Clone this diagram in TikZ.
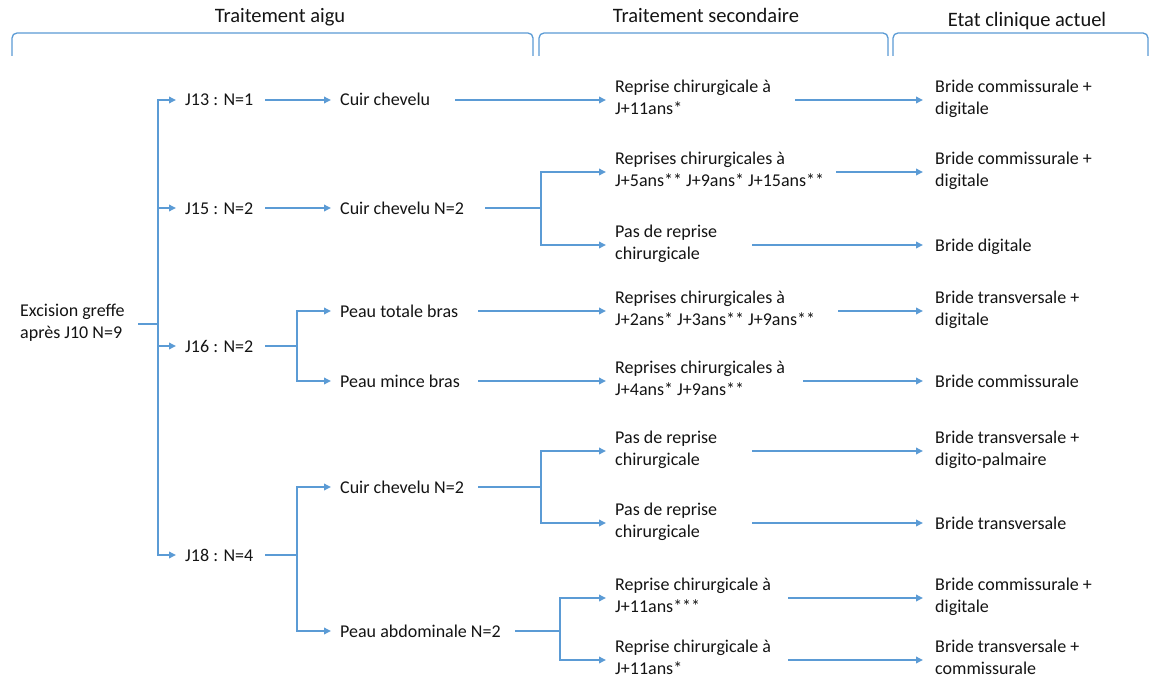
\documentclass[tikz,border=0pt]{standalone}
\usepackage{fontspec}
\setmainfont{Carlito}
\usetikzlibrary{arrows.meta}
\definecolor{lnblue}{HTML}{5B9BD5}
\definecolor{txtc}{HTML}{141414}
% first-line strut (height 16.5, depth 4.5) and last-line strut (height 6, depth 10.5)
\newcommand{\sk}{\rule[-4.5pt]{0pt}{21pt}}
\newcommand{\skb}{\rule[-10.5pt]{0pt}{16.5pt}}
\tikzset{
  txt/.style={anchor=west, inner sep=0pt, align=left, text=txtc,
    font=\fontsize{18}{22}\selectfont},
  hdr/.style={anchor=center, inner sep=0pt, text=txtc,
    font=\fontsize{20.5}{24}\selectfont},
  ln/.style={draw=lnblue, line width=1.8pt},
  arr/.style={ln, -{Triangle[length=7pt,width=6.5pt]}, shorten >=9pt},
  arrl/.style={arr, shorten >=12pt},
  bracepath/.style={draw=lnblue, line width=1.3pt, rounded corners=5pt}
}
\begin{document}
\begin{tikzpicture}[x=1pt,y=-1pt]
\useasboundingbox (0,0) rectangle (1157,685);
\fill[white] (0,0) rectangle (1157,685);

% headers
\node[hdr] (h1) at (280,17) {\sk Traitement aigu};
\node[hdr] (h2) at (706,17) {\sk Traitement secondaire};
\node[hdr] (h3) at (1027,21) {\sk Etat clinique actuel};
\draw[bracepath] (12,56) -- (12,33) -- (533,33) -- (533,56);
\draw[bracepath] (539,56) -- (539,33) -- (888,33) -- (888,56);
\draw[bracepath] (893,56) -- (893,33) -- (1148,33) -- (1148,56);

% root and level 1
\node[txt] (root) at (20,324) {\sk Excision greffe\\\skb après J10 N=9};
\node[txt] (j13) at (185,100) {\sk J13 : N=1};
\node[txt] (j15) at (185,208) {\sk J15 : N=2};
\node[txt] (j16) at (185,346) {\sk J16 : N=2};
\node[txt] (j18) at (185,555) {\sk J18 : N=4};

% level 2
\node[txt] (c13) at (340,100) {\sk Cuir chevelu};
\node[txt] (c15) at (340,208) {\sk Cuir chevelu N=2};
\node[txt] (ptb) at (340,311) {\sk Peau totale bras};
\node[txt] (pmb) at (340,381) {\sk Peau mince bras};
\node[txt] (c18) at (340,487) {\sk Cuir chevelu N=2};
\node[txt] (pab) at (340,631) {\sk Peau abdominale N=2};

% level 3
\node[txt] (s1) at (615,100) {\sk Reprise chirurgicale à\\\skb J+11ans*};
\node[txt] (s2) at (615,172) {\sk Reprises chirurgicales à\\\skb J+5ans** J+9ans* J+15ans**};
\node[txt] (s3) at (615,245) {\sk Pas de reprise\\\skb chirurgicale};
\node[txt] (s4) at (615,311) {\sk Reprises chirurgicales à\\\skb J+2ans* J+3ans** J+9ans**};
\node[txt] (s5) at (615,381) {\sk Reprises chirurgicales à\\\skb J+4ans* J+9ans**};
\node[txt] (s6) at (615,451) {\sk Pas de reprise\\\skb chirurgicale};
\node[txt] (s7) at (615,523) {\sk Pas de reprise\\\skb chirurgicale};
\node[txt] (s8) at (615,598) {\sk Reprise chirurgicale à\\\skb J+11ans***};
\node[txt] (s9) at (615,660) {\sk Reprise chirurgicale à\\\skb J+11ans*};

% level 4
\node[txt] (e1) at (935,100) {\sk Bride commissurale +\\\skb digitale};
\node[txt] (e2) at (935,172) {\sk Bride commissurale +\\\skb digitale};
\node[txt] (e3) at (935,245) {\sk Bride digitale};
\node[txt] (e4) at (935,311) {\sk Bride transversale +\\\skb digitale};
\node[txt] (e5) at (935,381) {\sk Bride commissurale};
\node[txt] (e6) at (935,451) {\sk Bride transversale +\\\skb digito-palmaire};
\node[txt] (e7) at (935,523) {\sk Bride transversale};
\node[txt] (e8) at (935,598) {\sk Bride commissurale +\\\skb digitale};
\node[txt] (e9) at (935,660) {\sk Bride transversale +\\\skb commissurale};

% junctions
\coordinate (k0) at (158,324);
\coordinate (k16) at (297,346);
\coordinate (k18) at (297,555);
\coordinate (kc15) at (541,208);
\coordinate (kc18) at (541,487);
\coordinate (kpab) at (560,631);

% root trunk
\draw[ln] (root.east -| 138,0) -- (k0);
\draw[arr] (k0) |- (j13.west);
\draw[arr] (k0) |- (j15.west);
\draw[arr] (k0) |- (j16.west);
\draw[arr] (k0) |- (j18.west);

% level 1 -> 2
\draw[arr] (j13.east -| 265,0) -- (c13.west);
\draw[arr] (j15.east -| 265,0) -- (c15.west);
\draw[ln] (j16.east -| 265,0) -- (k16);
\draw[arr] (k16) |- (ptb.west);
\draw[arr] (k16) |- (pmb.west);
\draw[ln] (j18.east -| 265,0) -- (k18);
\draw[arr] (k18) |- (c18.west);
\draw[arr] (k18) |- (pab.west);

% level 2 -> 3
\draw[arr] (c13.east -| 455,0) -- (s1.west);
\draw[ln] (c15.east -| 485,0) -- (kc15);
\draw[arr] (kc15) |- (s2.west);
\draw[arr] (kc15) |- (s3.west);
\draw[arr] (ptb.east -| 478,0) -- (s4.west);
\draw[arr] (pmb.east -| 478,0) -- (s5.west);
\draw[ln] (c18.east -| 478,0) -- (kc18);
\draw[arr] (kc18) |- (s6.west);
\draw[arr] (kc18) |- (s7.west);
\draw[ln] (pab.east -| 515,0) -- (kpab);
\draw[arr] (kpab) |- (s8.west);
\draw[arr] (kpab) |- (s9.west);

% level 3 -> 4
\draw[arrl] (s1.east -| 795,0) -- (e1.west);
\draw[arrl] (s2.east -| 836,0) -- (e2.west);
\draw[arrl] (s3.east -| 752,0) -- (e3.west);
\draw[arrl] (s4.east -| 838,0) -- (e4.west);
\draw[arrl] (s5.east -| 803,0) -- (e5.west);
\draw[arrl] (s6.east -| 752,0) -- (e6.west);
\draw[arrl] (s7.east -| 752,0) -- (e7.west);
\draw[arrl] (s8.east -| 788,0) -- (e8.west);
\draw[arrl] (s9.east -| 788,0) -- (e9.west);
\end{tikzpicture}
\end{document}
